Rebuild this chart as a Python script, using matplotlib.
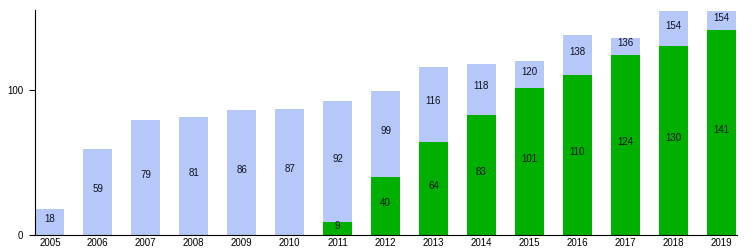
import numpy as np
import matplotlib
matplotlib.use("Agg")
import matplotlib.pyplot as plt

plt.rcParams['font.family'] = ['Liberation Sans', 'DejaVu Sans']

years = ['2005', '2006', '2007', '2008', '2009', '2010', '2011', '2012',
         '2013', '2014', '2015', '2016', '2017', '2018', '2019']
total = [18, 59, 79, 81, 86, 87, 92, 99, 116, 118, 120, 138, 136, 154, 154]
green = [0, 0, 0, 0, 0, 0, 9, 40, 64, 83, 101, 110, 124, 130, 141]

blue_col = '#b5c8f8'
green_col = '#00b000'

fig = plt.figure(figsize=(7.53, 2.5), dpi=100)
ax = fig.add_axes([35 / 753, 15 / 250, 702 / 753, 225 / 250])

x = np.arange(len(years))
w = 0.6
ax.bar(x, total, width=w, color=blue_col, zorder=1)
ax.bar(x, green, width=w, color=green_col, zorder=2)

# labels: green part in the middle of green, total in the middle of what's left
for i in range(len(years)):
    g = green[i]
    t = total[i]
    ax.text(x[i], g + (t - g) / 2 + 2, str(t), ha='center', va='center',
            fontsize=7, color='#111122', zorder=3)
    if g > 0:
        ax.text(x[i], g / 2 + 2, str(g), ha='center', va='center',
                fontsize=7, color='#111111', zorder=3)

ax.set_xlim(-0.31, 14.33)
ax.set_ylim(0, 155)
ax.set_xticks(x)
ax.set_xticklabels(years, fontsize=7)
ax.set_yticks([0, 100])
ax.tick_params(axis='x', length=0, pad=2.5)
ax.tick_params(axis='y', length=4.5, width=0.8, labelsize=7, pad=4)
ax.spines['top'].set_visible(False)
ax.spines['right'].set_visible(False)

fig.savefig('out.png', dpi=100)
